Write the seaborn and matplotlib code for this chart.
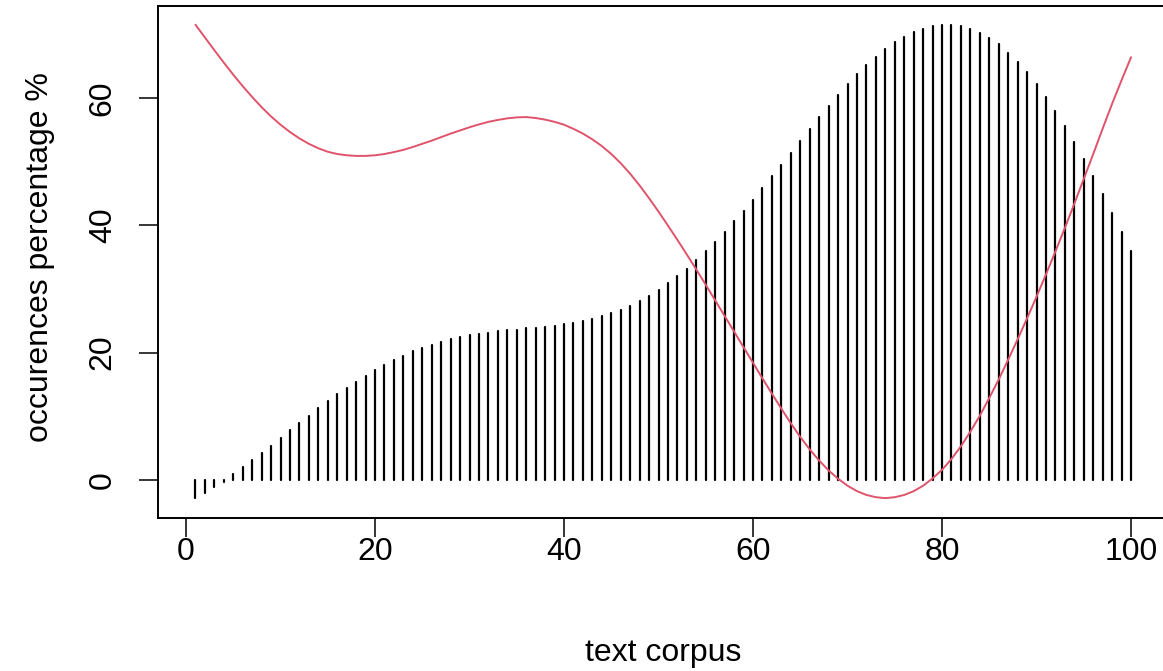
import numpy as np
import pandas as pd
import matplotlib
matplotlib.use("Agg")
import matplotlib.pyplot as plt
import seaborn as sns

# ---- data ----
corpus_idx = list(range(1, 101))
occurrence_pct = [
    -2.8, -2.0, -1.15, -0.3, 1.0, 2.1, 3.2, 4.3, 5.4, 6.6,
    7.85, 8.95, 10.1, 11.25, 12.4, 13.45, 14.45, 15.45, 16.4, 17.3,
    18.1, 18.85, 19.5, 20.2, 20.7, 21.25, 21.7, 22.1, 22.4, 22.7,
    22.9, 23.1, 23.35, 23.5, 23.6, 23.8, 23.9, 24.0, 24.2, 24.45,
    24.65, 25.0, 25.3, 25.7, 26.2, 26.75, 27.4, 28.1, 28.9, 29.85,
    30.9, 32.0, 33.2, 34.55, 35.9, 37.4, 38.95, 40.6, 42.25, 44.0,
    45.8, 47.7, 49.5, 51.4, 53.3, 55.1, 57.0, 58.7, 60.5, 62.15,
    63.7, 65.2, 66.5, 67.7, 68.74, 69.6, 70.3, 70.9, 71.3, 71.5,
    71.5, 71.25, 70.8, 70.25, 69.4, 68.4, 67.1, 65.6, 64.0, 62.15,
    60.1, 57.95, 55.55, 53.1, 50.45, 47.7, 44.9, 41.96, 38.97, 35.9,
]

# red trend curve, read at each corpus index
curve_x = list(range(1, 101))
curve_y = [
    71.5, 69.5, 67.5, 65.55, 63.65, 61.85, 60.15, 58.55, 57.1, 55.8,
    54.65, 53.65, 52.8, 52.1, 51.55, 51.2, 51.0, 50.9, 50.9, 51.0,
    51.2, 51.5, 51.85, 52.3, 52.8, 53.3, 53.85, 54.4, 54.9, 55.4,
    55.85, 56.25, 56.55, 56.8, 56.95, 57.0, 56.85, 56.6, 56.25, 55.8,
    55.15, 54.4, 53.5, 52.45, 51.2, 49.75, 48.1, 46.25, 44.25, 42.15,
    39.95, 37.7, 35.4, 33.05, 30.65, 28.2, 25.75, 23.3, 20.85, 18.4,
    15.95, 13.55, 11.2, 8.9, 6.75, 4.8, 3.05, 1.5, 0.2, -0.9,
    -1.75, -2.35, -2.7, -2.85, -2.7, -2.35, -1.75, -0.9, 0.25, 1.6,
    3.3, 5.3, 7.6, 10.1, 12.9, 15.8, 18.9, 22.1, 25.4, 28.8,
    32.3, 35.9, 39.6, 43.4, 47.3, 51.2, 55.2, 59.1, 62.8, 66.4,
]

x_ticks = [0, 20, 40, 60, 80, 100]
y_ticks = [0, 20, 40, 60]
x_title = "text corpus"
y_title = "occurences percentage %"

# ---- style ----
sns.set_style("white")
plt.rcParams['font.family'] = ['Liberation Sans', 'DejaVu Sans']
plt.rcParams['text.color'] = 'black'
plt.rcParams['xtick.color'] = 'black'
plt.rcParams['ytick.color'] = 'black'

fig = plt.figure(figsize=(11.63, 6.71), dpi=100)
ax = fig.add_axes([0.1359, 0.228, 0.8688, 0.7634])

bars_df = pd.DataFrame({"x": corpus_idx, "y": occurrence_pct})
vl = ax.vlines(bars_df["x"], 0, bars_df["y"], colors="black", linewidth=1.6)
vl.set_capstyle("round")

curve_df = pd.DataFrame({"x": curve_x, "y": curve_y})
sns.lineplot(data=curve_df, x="x", y="y", ax=ax, color="#DF536B",
             linewidth=1.4, sort=True, estimator=None)

ax.set_xlim(-2.96, 103.96)
ax.set_ylim(-5.97, 74.48)
ax.set_xticks(x_ticks)
ax.set_yticks(y_ticks)
ax.set_xlabel("")
ax.set_ylabel("")

for s in ax.spines.values():
    s.set_visible(True)
    s.set_color("black")
    s.set_linewidth(1.4)

ax.tick_params(axis='both', which='major', bottom=True, left=True,
               direction='out', length=14, width=1.1,
               color='black', labelsize=23, labelcolor='black')
ax.tick_params(axis='x', pad=0)
ax.tick_params(axis='y', pad=15, labelrotation=90)
for lab in ax.get_yticklabels():
    lab.set_va('center')

fig.text(663 / 1163, 1 - 653 / 671, x_title, ha='center', va='center',
         fontsize=23, color='black')
fig.text(40 / 1163, 1 - 257 / 671, y_title, rotation=90, ha='center',
         va='center', fontsize=23, color='black')

fig.savefig("out.png", dpi=100)
